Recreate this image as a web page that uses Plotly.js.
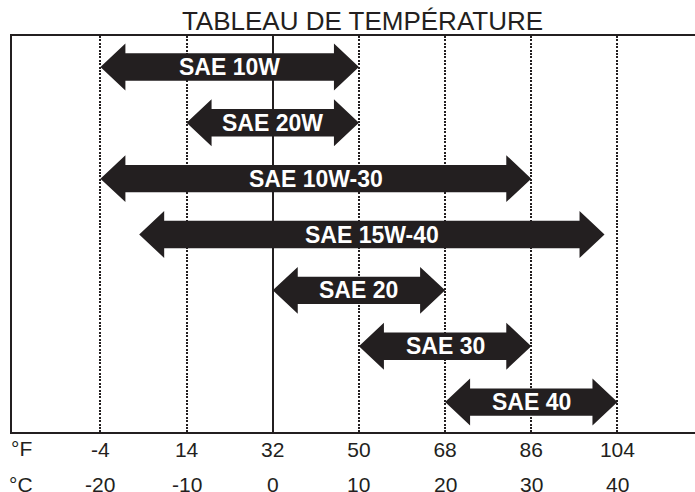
<!DOCTYPE html>
<html>
<head>
<meta charset="utf-8">
<script src="https://cdn.plot.ly/plotly-3.0.1.min.js"></script>
<style>html,body{margin:0;padding:0;background:#fff;}#chart{width:695px;height:492px;}</style>
</head>
<body>
<div id="chart"></div>
<script>
// Oil grades and their temperature ranges (°C)
const grades = ['SAE 10W', 'SAE 20W', 'SAE 10W-30', 'SAE 15W-40', 'SAE 20', 'SAE 30', 'SAE 40'];
const minC = [-20, -10, -20, -15.5, 0, 10, 20];
const maxC = [10, 10, 30, 38.5, 20, 30, 40];

// Axis ticks
const celsiusTicks = [-20, -10, 0, 10, 20, 30, 40];
const fahrenheitLabels = ['-4', '14', '32', '50', '68', '86', '104'];
const celsiusLabels = ['-20', '-10', '0', '10', '20', '30', '40'];
const unitLabels = ['°F', '°C'];

const INK = '#231f20';
const FONT = 'Liberation Sans, Arial, Helvetica, sans-serif';

// arrow geometry (head length in °C, half heights in row units)
const headLen = 2.9, headHalf = 0.42, shaftHalf = 0.245;

const traces = grades.map((g, i) => {
  const a = minC[i], b = maxC[i], r = i;
  const xs = [a, a + headLen, a + headLen, b - headLen, b - headLen, b, b - headLen, b - headLen, a + headLen, a + headLen, a];
  const ys = [r, r - headHalf, r - shaftHalf, r - shaftHalf, r - headHalf, r, r + headHalf, r + shaftHalf, r + shaftHalf, r + headHalf, r];
  return {
    x: xs, y: ys, type: 'scatter', mode: 'lines', fill: 'toself',
    fillcolor: INK, line: {width: 0, color: INK}, hoverinfo: 'skip', showlegend: false, name: g
  };
});

const annotations = grades.map((g, i) => ({
  x: (minC[i] + maxC[i]) / 2, y: i, xref: 'x', yref: 'y', text: g, showarrow: false,
  xanchor: 'center', yanchor: 'middle',
  font: {family: FONT, size: 23, color: '#ffffff', weight: 'bold'}
}));

// Celsius row of tick labels, below the Fahrenheit axis labels
celsiusTicks.forEach((v, k) => {
  annotations.push({
    x: v, y: 0, xref: 'x', yref: 'paper', text: celsiusLabels[k], showarrow: false,
    xanchor: 'center', yanchor: 'middle', yshift: -52,
    font: {family: FONT, size: 21, color: INK}
  });
});

unitLabels.forEach((u, k) => {
  annotations.push({
    x: -29.2, y: 0, xref: 'x', yref: 'paper', text: u, showarrow: false,
    xanchor: 'center', yanchor: 'middle', yshift: -16.5 - k * 35.5,
    font: {family: FONT, size: 21, color: INK}
  });
});

const xr = [-30.26, 49.0];

const layout = {
  width: 695, height: 492,
  margin: {l: 12, r: 0, t: 35.5, b: 59.5, pad: 0, autoexpand: false},
  paper_bgcolor: '#ffffff', plot_bgcolor: '#ffffff',
  title: {
    text: 'TABLEAU DE TEMPÉRATURE', xref: 'container', x: 0.5216, xanchor: 'center',
    yref: 'container', y: 0.958, yanchor: 'middle',
    font: {family: FONT, size: 26, color: INK}
  },
  showlegend: false,
  xaxis: {
    range: xr, autorange: false, tickmode: 'array', tickvals: celsiusTicks, ticktext: fahrenheitLabels,
    ticks: '', showgrid: true, gridcolor: INK, gridwidth: 2, griddash: '2px,1.4px',
    zeroline: true, zerolinecolor: INK, zerolinewidth: 2,
    showline: true, mirror: true, linecolor: INK, linewidth: 2,
    tickfont: {family: FONT, size: 21, color: INK}, ticklabelstandoff: -2, fixedrange: true
  },
  yaxis: {
    range: [6.536, -0.554], autorange: false, showticklabels: false, ticks: '',
    showgrid: false, zeroline: false, showline: true, linecolor: INK, linewidth: 2, fixedrange: true
  },
  annotations: annotations
};

Plotly.newPlot('chart', traces, layout, {staticPlot: true, displayModeBar: false});
</script>
</body>
</html>
